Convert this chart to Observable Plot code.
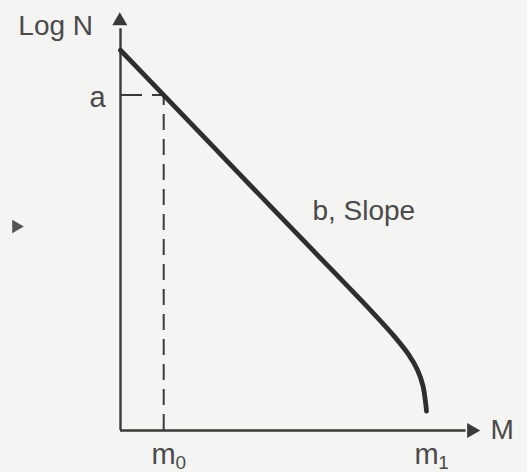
<!DOCTYPE html>
<html>
<head>
<meta charset="utf-8">
<script src="https://cdn.jsdelivr.net/npm/d3@7"></script>
<script src="https://cdn.jsdelivr.net/npm/@observablehq/plot@0.6"></script>
<style>
  html, body { margin: 0; padding: 0; background: #f4f4f2; }
  #chart svg { display: block; }
</style>
</head>
<body>
<div id="chart"></div>
<script>
// Gutenberg–Richter frequency–magnitude relation (schematic)
const magnitude = [0, 1.2, 3.0, 5.0, 7.0, 7.6, 8.0, 8.25, 8.4, 8.47, 8.5];
const logN      = [9.75, 8.6, 6.87, 4.95, 3.03, 2.42, 1.95, 1.55, 1.15, 0.75, 0.5];

const m0 = 1.2;          // lower threshold magnitude
const m1 = 8.5;          // upper bound magnitude
const aValue = 8.6;      // log N at m0

const tickNames = ["m", "m"];
const tickSubs = ["0", "1"];
const tickValues = [m0, m1];

const axisTitles = ["Log N", "M"];
const slopeLabel = "b, Slope";

const curve = magnitude.map((m, i) => ({m, n: logN[i]}));
const ticks = tickValues.map((v, i) => ({v, name: tickNames[i], sub: tickSubs[i]}));

const ink = "#3a3a3a";
const textInk = "#4a4a4a";
const font = "'Liberation Sans', Arial, Helvetica, sans-serif";

const chart = Plot.plot({
  width: 527,
  height: 472,
  margin: 0,
  style: {background: "#f4f4f2", fontFamily: font, color: textInk},
  x: {domain: [0, 10], range: [120, 480], axis: null},
  y: {domain: [0, 10], range: [430, 40], axis: null},
  marks: [
    // axes with arrowheads
    Plot.ruleY([0], {x1: 0, x2: 9.6, stroke: ink, strokeWidth: 2.4}),
    Plot.ruleX([0], {y1: 0, y2: 10.3, stroke: ink, strokeWidth: 2.4}),
    Plot.dot([{x: 9.75, y: 0}], {x: "x", y: "y", symbol: "triangle", r: 5.6, rotate: 90, fill: ink, stroke: "none"}),
    Plot.dot([{x: -0.02, y: 10.5}], {x: "x", y: "y", symbol: "triangle", r: 5.6, fill: ink, stroke: "none"}),
    // dashed guides to a and m0
    Plot.ruleX([m0], {y1: 0, y2: aValue, stroke: ink, strokeWidth: 2, strokeDasharray: "16,9"}),
    Plot.ruleY([aValue], {x1: 0, x2: m0, stroke: ink, strokeWidth: 2, strokeDasharray: "22,10"}),
    // frequency–magnitude curve
    Plot.line(curve, {x: "m", y: "n", curve: "catmull-rom", stroke: "#2e2e2e", strokeWidth: 4.8, strokeLinecap: "round"}),
    // labels
    Plot.text([axisTitles[0]], {x: -1.8, y: 10.38, text: d => d, fontSize: 28, textAnchor: "middle", fill: textInk}),
    Plot.text([axisTitles[1]], {x: 10.6, y: 0, text: d => d, fontSize: 28, textAnchor: "middle", fill: textInk}),
    Plot.text(["a"], {x: -0.64, y: aValue, dy: 3, text: d => d, fontSize: 29, textAnchor: "middle", fill: textInk}),
    Plot.text([slopeLabel], {x: 5.33, y: 5.64, text: d => d, fontSize: 28, textAnchor: "start", fill: textInk}),
    Plot.text(ticks, {x: "v", y: 0, dy: 24, text: "name", fontSize: 29, textAnchor: "middle", fill: textInk}),
    Plot.text(ticks, {x: "v", y: 0, dy: 32, dx: 17, text: "sub", fontSize: 19, textAnchor: "middle", fill: textInk}),
    // small pointer at left margin
    Plot.dot([{x: -2.9, y: 5.23}], {x: "x", y: "y", symbol: "triangle", r: 5, rotate: 90, fill: "#555", stroke: "none"})
  ]
});

document.getElementById("chart").append(chart);
</script>
</body>
</html>
